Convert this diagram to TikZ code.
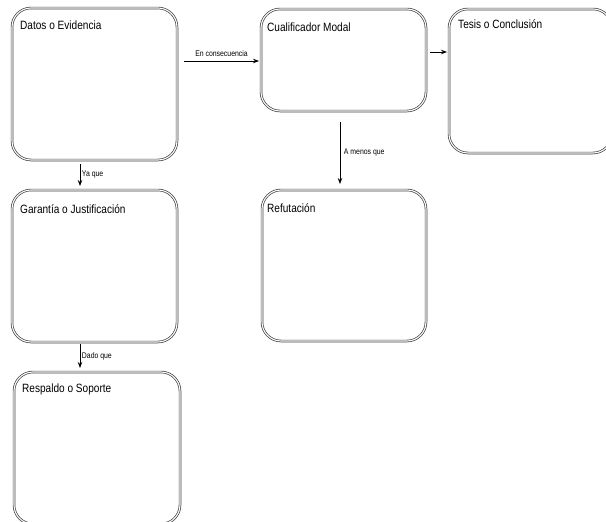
\documentclass[tikz,border=0pt]{standalone}
\usepackage{fontspec}
\setmainfont{Liberation Sans}
\newfontfamily\narrowsans[FakeStretch=0.84]{Liberation Sans}
\usetikzlibrary{arrows.meta}
\begin{document}
\begin{tikzpicture}[x=1pt,y=-1pt,
  box/.style={draw=black!75, double=white, double distance=1.1pt, line width=0.7pt, rounded corners=19pt},
  boxtext/.style={anchor=base west, inner sep=0pt, font=\narrowsans\fontsize{12}{14}\selectfont},
  conn/.style={line width=0.9pt, -{Stealth[length=6pt,width=4.5pt]}},
  lbl/.style={inner sep=1.5pt, font=\narrowsans\fontsize{8.2}{9}\selectfont}]
\clip (0,0) rectangle (606,522);
\fill[white] (0,0) rectangle (606,522);
% boxes
\draw[box] (12,8) rectangle (177,160);
\node[boxtext] (datos) at (20,29) {Datos o Evidencia};
\draw[box] (12,190) rectangle (177,342);
\node[boxtext] (garantia) at (20,213) {Garantía o Justificación};
\draw[box] (14,372) rectangle (180,524);
\node[boxtext] (respaldo) at (22,392) {Respaldo o Soporte};
\draw[box] (261,9) rectangle (426,111);
\node[boxtext] (cualif) at (267,31) {Cualificador Modal};
\draw[box] (449,9) rectangle (612,153);
\node[boxtext] (tesis) at (458,28) {Tesis o Conclusión};
\draw[box] (262,190) rectangle (426,341);
\node[boxtext] (refut) at (267,212) {Refutación};
% connector end points
\coordinate (e1a) at (184,61); \coordinate (e1b) at (259,61);
\coordinate (e2a) at (430,52); \coordinate (e2b) at (447,52);
\coordinate (e3a) at (80,164); \coordinate (e3b) at (80,186);
\coordinate (e4a) at (340,122); \coordinate (e4b) at (340,184);
\coordinate (e5a) at (80,344); \coordinate (e5b) at (80,368);
% connectors
\draw[conn] (e1a) -- node[lbl, above=2pt] {En consecuencia} (e1b);
\draw[conn] (e2a) -- (e2b);
\draw[conn] (e3a) -- node[lbl, right] {Ya que} (e3b);
\draw[conn] (e4a) -- node[lbl, right=2pt] {A menos que} (e4b);
\draw[conn] (e5a) -- node[lbl, right] {Dado que} (e5b);
\end{tikzpicture}
\end{document}
